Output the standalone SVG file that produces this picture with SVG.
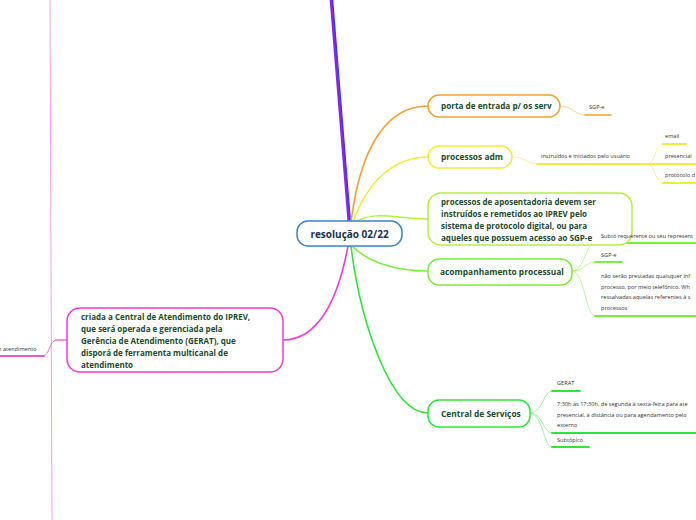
<svg xmlns="http://www.w3.org/2000/svg" width="696" height="520" viewBox="0 0 696 520">
<style>
.node{fill:#fff;stroke-width:1.5}
.nt{font-family:"Open Sans","DejaVu Sans",sans-serif;font-weight:bold;fill:#1d4a2c}
.st{font-family:"Open Sans","DejaVu Sans",sans-serif;fill:#333;font-size:5.6px}
.c{fill:none;stroke-linecap:round}
</style>
<rect width="696" height="520" fill="#fff"/>
<g id="connectors">
  <path class="c" d="M349,222 L331,-2" stroke="#8a22f0" stroke-width="3"/>
  <path class="c" d="M350.5,222 L332.5,-2" stroke="#2a3cff" stroke-width="1.2"/>
  <path class="c" d="M351,222 C360,150 385,106 428,106" stroke="#f5a030" stroke-width="1.6"/>
  <path class="c" d="M353,222 C368,180 395,157 428,157" stroke="#f2ec38" stroke-width="1.6"/>
  <path class="c" d="M355,222 C375,210 398,219 428,219" stroke="#b6f03c" stroke-width="1.4"/>
  <path class="c" d="M352,246 C368,262 395,271 428,271" stroke="#7af03a" stroke-width="1.6"/>
  <path class="c" d="M351,246 C360,320 390,413 428,413" stroke="#2ee63a" stroke-width="1.6"/>
  <path class="c" d="M348,246 C338,300 318,340 283,340" stroke="#f23ad8" stroke-width="1.6"/>
  <path class="c" d="M67,340 L56,340" stroke="#f070dc" stroke-width="1.5"/>
  <path class="c" d="M50,0 L52,520" stroke="#f7a0ea" stroke-width="1"/>
  <path class="c" d="M56,340 C50,340 49,356 43,356 L0,356" stroke="#f070dc" stroke-width="1"/>
  <path class="c" d="M44,356 L0,356" stroke="#e23ad0" stroke-width="1.6"/>
  <path class="c" d="M560,106 C572,106 575,115 585,115" stroke="#f8c880" stroke-width="0.8"/>
  <path class="c" d="M585,115 L611,115" stroke="#f5a030" stroke-width="1.4"/>
  <path class="c" d="M512,157 C525,157 528,164 537,164" stroke="#f5ef80" stroke-width="0.8"/>
  <path class="c" d="M537,164 L648,164" stroke="#f2ec38" stroke-width="1.8"/>
  <path class="c" d="M648,164 C655,164 655,144 663,144" stroke="#f5ef80" stroke-width="0.8"/>
  <path class="c" d="M663,144 L686,144" stroke="#f2ec38" stroke-width="1.8"/>
  <path class="c" d="M648,164 L696,164" stroke="#f2ec38" stroke-width="1.8"/>
  <path class="c" d="M648,164 C655,164 655,183 663,183" stroke="#f5ef80" stroke-width="0.8"/>
  <path class="c" d="M663,183 L696,183" stroke="#f2ec38" stroke-width="1.8"/>
  <path class="c" d="M572,271 C585,271 585,243 595,243" stroke="#a8f580" stroke-width="0.8"/>
  <path class="c" d="M595,243 L696,243" stroke="#7af03a" stroke-width="1.8"/>
  <path class="c" d="M572,271 C585,271 585,262 595,262" stroke="#a8f580" stroke-width="0.8"/>
  <path class="c" d="M595,262 L622,262" stroke="#7af03a" stroke-width="1.8"/>
  <path class="c" d="M572,271 C585,271 585,316 595,316" stroke="#a8f580" stroke-width="0.8"/>
  <path class="c" d="M595,316 L696,316" stroke="#7af03a" stroke-width="1.8"/>
  <path class="c" d="M530,413 C543,413 543,391 552,391" stroke="#88f090" stroke-width="0.8"/>
  <path class="c" d="M552,391 L580,391" stroke="#2ee63a" stroke-width="1.8"/>
  <path class="c" d="M530,413 C543,413 543,433 552,433" stroke="#88f090" stroke-width="0.8"/>
  <path class="c" d="M552,433 L696,433" stroke="#2ee63a" stroke-width="1.8"/>
  <path class="c" d="M530,413 C543,413 543,447 552,447" stroke="#88f090" stroke-width="0.8"/>
  <path class="c" d="M552,447 L589,447" stroke="#2ee63a" stroke-width="1.8"/>
</g>
<g id="n-central">
  <rect class="node" x="297" y="221" width="105" height="25" rx="11" stroke="#3a84c8"/>
  <text class="nt" x="349.5" y="237.5" font-size="10" text-anchor="middle" style="fill:#1c2f52">resolução 02/22</text>
</g>
<g id="n-porta">
  <rect class="node" x="428" y="95" width="132" height="22" rx="11" stroke="#f5a030"/>
  <text class="nt" x="441" y="109" font-size="8.2">porta de entrada p/ os serv</text>
</g>
<g id="n-sgpe1"><text class="st" x="589" y="109">SGP-e</text></g>
<g id="n-adm">
  <rect class="node" x="428" y="146" width="84" height="22" rx="11" stroke="#f2ec38"/>
  <text class="nt" x="441" y="160" font-size="8.4">processos adm</text>
</g>
<g id="n-instr"><text class="st" x="541" y="158">instruídos e iniciados pelo usuário</text></g>
<g id="n-email"><text class="st" x="665" y="138">email</text></g>
<g id="n-presencial"><text class="st" x="665" y="158">presencial</text></g>
<g id="n-protocolo"><text class="st" x="665" y="177">protocolo d</text></g>
<g id="n-apos">
  <rect class="node" x="428" y="193" width="204" height="52" rx="13" stroke="#b6f03c"/>
  <text class="nt" font-size="8">
    <tspan x="441" y="205">processos de aposentadoria devem ser</tspan>
    <tspan x="441" y="217">instruídos e remetidos ao IPREV pelo</tspan>
    <tspan x="441" y="229">sistema de protocolo digital, ou para</tspan>
    <tspan x="441" y="241">aqueles que possuem acesso ao SGP-e</tspan>
  </text>
</g>
<g id="n-acomp">
  <rect class="node" x="428" y="259" width="144" height="26" rx="11" stroke="#7af03a"/>
  <text class="nt" x="440" y="275" font-size="8.4">acompanhamento processual</text>
</g>
<g id="n-subreq"><text class="st" x="601" y="238">Subtó requerente ou seu represent</text></g>
<g id="n-sgpe2"><text class="st" x="601" y="257">SGP-e</text></g>
<g id="n-naoserao">
  <text class="st">
    <tspan x="601" y="278">não serão prestadas quaisquer inf</tspan>
    <tspan x="601" y="289">processo, por meio telefônico, Wh</tspan>
    <tspan x="601" y="299">ressalvadas aquelas referentes à s</tspan>
    <tspan x="601" y="310">processos</tspan>
  </text>
</g>
<g id="n-central-serv">
  <rect class="node" x="428" y="400" width="102" height="27" rx="11" stroke="#2ee63a"/>
  <text class="nt" x="441" y="417" font-size="8.4">Central de Serviços</text>
</g>
<g id="n-gerat"><text class="st" x="557" y="385">GERAT</text></g>
<g id="n-horario">
  <text class="st">
    <tspan x="557" y="406">7:30h às 17:30h, de segunda à sexta-feira para ate</tspan>
    <tspan x="557" y="417">presencial, à distância ou para agendamento pelo</tspan>
    <tspan x="557" y="427">externo</tspan>
  </text>
</g>
<g id="n-subtopico"><text class="st" x="557" y="442">Subtópico</text></g>
<g id="n-criada">
  <rect class="node" x="67" y="308" width="216" height="64" rx="13" stroke="#f23ad8"/>
  <text class="nt" font-size="8">
    <tspan x="81" y="320">criada a Central de Atendimento do IPREV,</tspan>
    <tspan x="81" y="332">que será operada e gerenciada pela</tspan>
    <tspan x="81" y="344">Gerência de Atendimento (GERAT), que</tspan>
    <tspan x="81" y="356">disporá de ferramenta multicanal de</tspan>
    <tspan x="81" y="368">atendimento</tspan>
  </text>
</g>
<g id="n-atend"><text class="st" x="-2" y="351">n atendimento</text></g>
</svg>
